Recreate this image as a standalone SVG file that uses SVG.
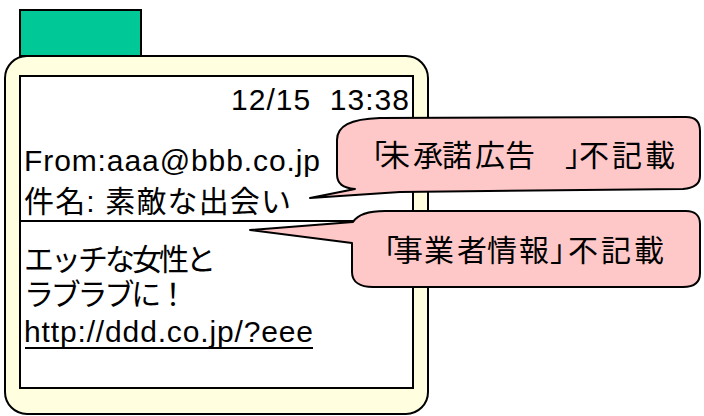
<svg xmlns="http://www.w3.org/2000/svg" width="704" height="416" viewBox="0 0 704 416">
<style>
.t{font-family:"Liberation Sans","Noto Sans CJK JP",sans-serif;font-size:30px;fill:#000}
.c{font-family:"Noto Sans CJK JP",sans-serif;font-size:30px;fill:#000}
.ln{stroke:#000;stroke-width:2;fill:none}
.co{fill:#FFC8C8;stroke:#000;stroke-width:2;stroke-linejoin:round}
</style>
<rect width="704" height="416" fill="#fff"/>
<g id="tab"><rect x="20" y="10" width="121" height="46" fill="#00C896" stroke="#000" stroke-width="2"/></g>
<g id="phone">
<rect x="5" y="56" width="423" height="358" rx="22" fill="#FFFFE0" stroke="#000" stroke-width="2"/>
<rect x="20" y="76" width="393" height="312" fill="#fff" stroke="#000" stroke-width="2"/>
<line class="ln" x1="20" y1="221" x2="413" y2="221"/>
<text class="t" x="231" y="110" textLength="178" lengthAdjust="spacing" xml:space="preserve">12/15  13:38</text>
<text class="t" x="24" y="171" textLength="296" lengthAdjust="spacing">From:aaa@bbb.co.jp</text>
<text class="t" x="24" y="212" textLength="267" lengthAdjust="spacing">件名: 素敵な出会い</text>
<text class="t" x="24" y="270" textLength="192" lengthAdjust="spacing">エッチな女性と</text>
<text class="t" x="24" y="305" textLength="164" lengthAdjust="spacing">ラブラブに！</text>
<text class="t" x="24" y="342" textLength="289" lengthAdjust="spacing">http://ddd.co.jp/?eee</text>
<line class="ln" x1="25" y1="348" x2="313" y2="348"/>
</g>
<g id="callout1">
<path class="co" d="M310,198 L355,189 C343,188 337,184 337,174 L337,140 C337,126 350,119 380,118 L686,117 C695,117 700,122 700,131 L700,176 C700,184 694,188 683,189 L400,192 Z"/>
<text class="c" x="357 380 413 442 475 505 536 565 579 612 645" y="166">「未承諾広告　」不記載</text>
</g>
<g id="callout2">
<path class="co" d="M250,230 L353,222 C358,214 368,211 385,211 L686,211 C695,211 700,216 700,224 L700,273 C700,282 694,287 683,287 L373,287 C360,287 352,282 352,272 L352,243 Z"/>
<text class="c" x="369 393 424 457 487 519 550 568 601 634" y="261">「事業者情報」不記載</text>
</g>
</svg>
